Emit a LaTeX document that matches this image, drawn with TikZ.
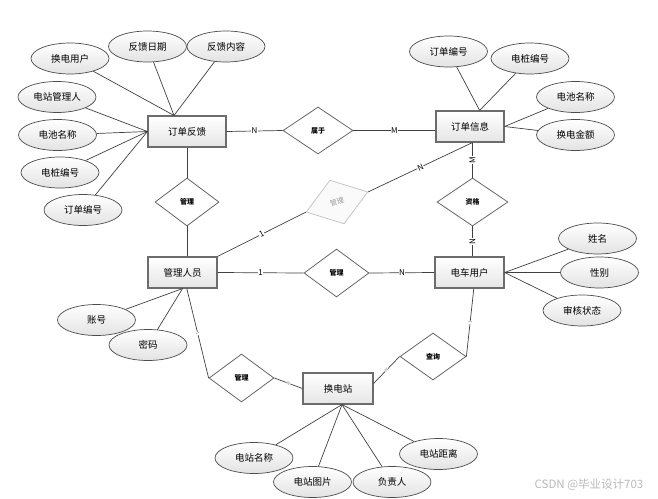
\documentclass[tikz,border=0pt]{standalone}
\usepackage{fontspec}
\setmainfont{Noto Sans CJK SC}
\usetikzlibrary{shapes.geometric,shadows,calc}
\tikzset{
 ent/.style={rectangle, draw=gray!85!black, line width=1.1pt, top color=white, bottom color=gray!20,
   minimum height=31pt, inner sep=1pt, font=\fontsize{9.5}{10}\selectfont,
   drop shadow={shadow xshift=1pt,shadow yshift=-1pt,opacity=0.35}},
 attr/.style={ellipse, draw=black!70, line width=0.7pt, top color=white, bottom color=gray!22,
   minimum width=78pt, minimum height=31pt, inner sep=0pt, font=\fontsize{9.5}{10}\selectfont},
 rel/.style={diamond, draw=black!60, line width=0.8pt, fill=white, inner sep=0pt,
   font=\fontsize{7}{7}\selectfont\bfseries},
 grel/.style={rel, draw=gray!45, fill=gray!4, text=gray!80, font=\fontsize{7}{7}\selectfont},
 lnk/.style={draw=black!75, line width=0.7pt},
 card/.style={fill=white, inner sep=0.5pt, font=\fontsize{8}{8}\selectfont},
 tcard/.style={fill=white, inner sep=0.3pt, font=\fontsize{4.5}{4.5}\selectfont, text=gray, sloped},
}
\begin{document}
\begin{tikzpicture}[x=1pt,y=-1pt]
\useasboundingbox (0,0) rectangle (658,498);

% entities
\node[ent, minimum width=78pt] (fk) at (187,131.5) {订单反馈};
\node[ent, minimum width=68pt] (dd) at (470,126.5) {订单信息};
\node[ent, minimum width=69pt] (gl) at (182.5,272.5) {管理人员};
\node[ent, minimum width=69pt] (yh) at (469.5,272.5) {电车用户};
\node[ent, minimum width=70pt] (hd) at (338,388.5) {换电站};

% relationships
\node[rel, minimum width=70pt, minimum height=47pt] (sy) at (318,130.5) {属于};
\node[rel, minimum width=64pt, minimum height=48pt] (gm) at (187,202) {管理};
\node[rel, minimum width=71pt, minimum height=48pt] (zg) at (472.5,202) {资格};
\node[grel, minimum width=65pt, minimum height=46pt, rotate=18] (gr) at (337,202) {管理};
\node[rel, minimum width=65pt, minimum height=48pt] (gc) at (336.5,273) {管理};
\node[rel, minimum width=65pt, minimum height=48pt] (gb) at (241.5,378) {管理};
\node[rel, minimum width=66pt, minimum height=47pt] (cx) at (433,356.5) {查询};

% attributes
\node[attr] (a1) at (70,58.5) {换电用户};
\node[attr] (a2) at (147.5,46.5) {反馈日期};
\node[attr] (a3) at (226,46.5) {反馈内容};
\node[attr] (a4) at (57,97) {电站管理人};
\node[attr] (a5) at (57.5,135) {电池名称};
\node[attr] (a6) at (60,172.5) {电桩编号};
\node[attr] (a7) at (83,210) {订单编号};
\node[attr] (b1) at (448.5,51.5) {订单编号};
\node[attr] (b2) at (530,58.5) {电桩编号};
\node[attr] (b3) at (575.5,97) {电池名称};
\node[attr] (b4) at (575.5,135) {换电金额};
\node[attr] (c1) at (597.5,238.5) {姓名};
\node[attr] (c2) at (599.5,272.5) {性别};
\node[attr] (c3) at (582,310.5) {审核状态};
\node[attr] (d1) at (96.5,320) {账号};
\node[attr] (d2) at (148,345) {密码};
\node[attr] (e1) at (254,458) {电站名称};
\node[attr] (e2) at (312.5,482) {电站图片};
\node[attr] (e3) at (392,482) {负责人};
\node[attr] (e4) at (438.5,454) {电站距离};

% attribute links
\foreach \a in {a1,a2,a3} \draw[lnk] (\a) -- (fk.129);
\foreach \a in {a4,a5,a6,a7} \draw[lnk] (\a) -- (fk.west);
\foreach \a in {b1,b2} \draw[lnk] (\a) -- (dd.59);
\foreach \a in {b3,b4} \draw[lnk] (\a) -- (dd.east);
\foreach \a in {c1,c2,c3} \draw[lnk] (\a) -- (yh.east);
\foreach \a in {d1,d2} \draw[lnk] (\a) -- (gl.south);
\foreach \a in {e1,e2,e3,e4} \draw[lnk] (\a) -- (hd.-76);

% relationship links
\draw[lnk] (fk.east) -- node[card]{N} (sy.west);
\draw[lnk] (sy.east) -- node[card]{M} (sy.east -| dd.west);
\draw[lnk] (fk.south) -- (gm.north);
\draw[lnk] (gm.south) -- (gm.south |- gl.north);
\draw[lnk] (zg.north |- dd.south) -- node[card, rotate=90]{M} (zg.north);
\draw[lnk] (zg.south) -- node[card, rotate=90]{N} (zg.south |- yh.north);
\draw[lnk] (gl.north east) -- node[card, sloped]{1} (gr.west);
\draw[lnk] (gr.east) -- node[card, sloped]{N} (zg.north |- dd.south);
\draw[lnk] (gl.east) -- node[card]{1} (gc.west);
\draw[lnk] (gc.east) -- node[card]{N} (yh.west);
\draw[lnk] (gl.-75) -- node[tcard]{1} (gb.west);
\draw[lnk] (gb.east) -- node[tcard]{N} (hd.west);
\draw[lnk] (hd.8) -- node[tcard]{N} (cx.west);
\draw[lnk] (cx.east) -- node[tcard]{1} (yh.-75);

% watermark
\node[text=gray!55, font=\fontsize{11.5}{12}\selectfont] (wm) at (589,485) {CSDN @毕业设计703};
\end{tikzpicture}
\end{document}
